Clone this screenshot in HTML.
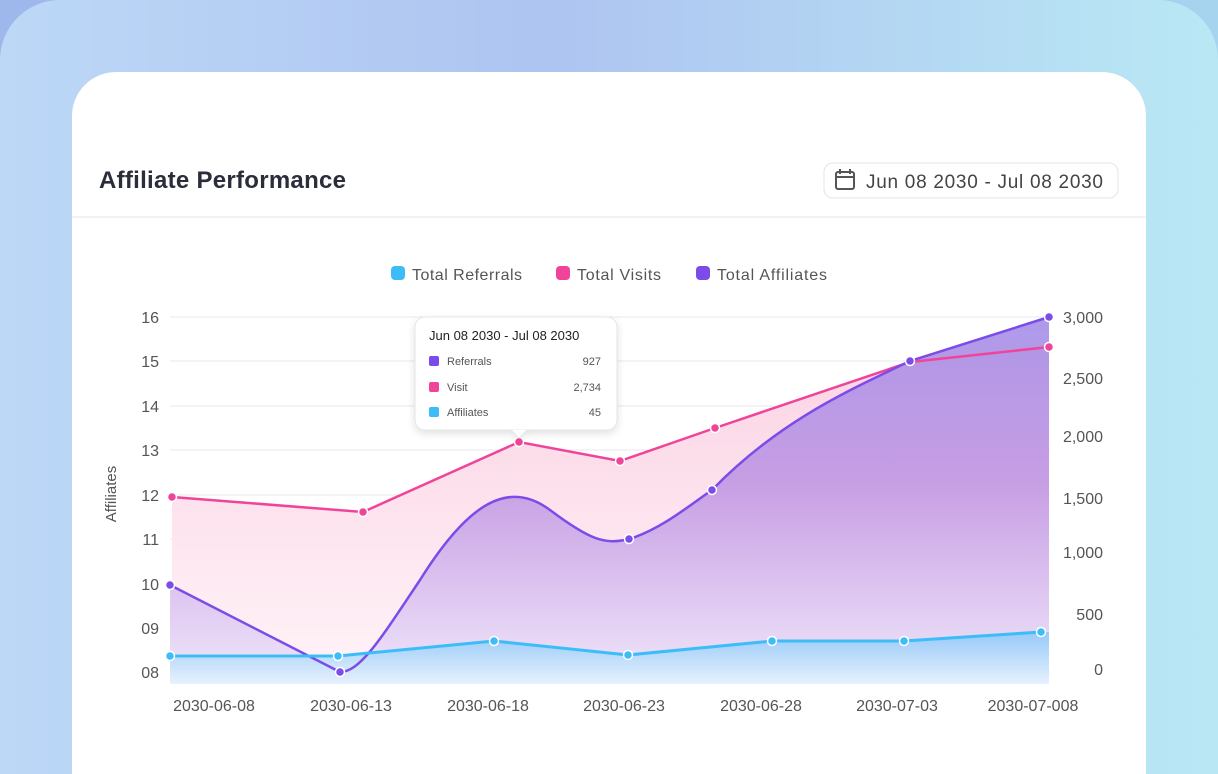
<!DOCTYPE html>
<html style="margin:0;width:1218px;height:774px;overflow:hidden"><head><meta charset="utf-8"><style>
body{margin:0;width:1218px;height:774px;overflow:hidden;position:relative;font-family:"Liberation Sans",sans-serif;
background:linear-gradient(90deg,#9fb8ec 0%,#9cb3ea 50%,#a6d4ee 100%);}
.outer{position:absolute;left:0;top:0;width:1218px;height:774px;border-radius:60px 60px 0 0;
background:linear-gradient(90deg,#bcd8f6 0%,#aec4f1 45%,#b9e8f4 100%);}
.card{position:absolute;left:72px;top:72px;width:1074px;height:702px;background:#fff;border-radius:44px 44px 0 0;}
</style></head><body>
<div class="outer"></div>
<div class="card"></div>
<svg width="1218" height="774" style="position:absolute;left:0;top:0" font-family="Liberation Sans, sans-serif">
<defs>
<linearGradient id="gp" x1="0" y1="0" x2="0" y2="1"><stop offset="0" stop-color="#fbd3e4"/><stop offset="1" stop-color="#fff4f8"/></linearGradient>
<linearGradient id="gv" x1="0" y1="0" x2="0" y2="1"><stop offset="0" stop-color="#a690e8"/><stop offset="0.45" stop-color="#c298e3"/><stop offset="1" stop-color="#efe6fb"/></linearGradient>
<linearGradient id="gb" x1="0" y1="0" x2="0" y2="1"><stop offset="0" stop-color="#8dc8f8"/><stop offset="1" stop-color="#e6f2fe"/></linearGradient>
<filter id="sh" x="-20%" y="-20%" width="140%" height="150%"><feDropShadow dx="0" dy="3" stdDeviation="4" flood-color="#000" flood-opacity="0.12"/></filter>
</defs>
<text x="99" y="188" font-size="24" font-weight="bold" fill="#2b2d3b" textLength="247">Affiliate Performance</text>
<rect x="824" y="163" width="294" height="35" rx="9" fill="#fff" stroke="#e2e4e8"/>
<rect x="836" y="172" width="18" height="17" rx="2" fill="none" stroke="#555" stroke-width="2"/>
<line x1="836" y1="177" x2="854" y2="177" stroke="#555" stroke-width="2"/>
<line x1="840" y1="169" x2="840" y2="174" stroke="#555" stroke-width="2"/><line x1="850" y1="169" x2="850" y2="174" stroke="#555" stroke-width="2"/>
<text x="866" y="188" font-size="19" fill="#444" textLength="237">Jun 08 2030 - Jul 08 2030</text>
<line x1="72" y1="217" x2="1146" y2="217" stroke="#e6e6ea"/>
<g font-size="16" fill="#555">
<rect x="391" y="266" width="14" height="14" rx="4" fill="#3dbdf8"/><text x="412" y="280" textLength="110">Total Referrals</text>
<rect x="556" y="266" width="14" height="14" rx="4" fill="#f0449a"/><text x="577" y="280" textLength="84">Total Visits</text>
<rect x="696" y="266" width="14" height="14" rx="4" fill="#7b4ce8"/><text x="717" y="280" textLength="110">Total Affiliates</text>
</g>
<g stroke="#e8e8ec" stroke-width="1">
<line x1="170" y1="317" x2="1050" y2="317"/><line x1="170" y1="361" x2="1050" y2="361"/><line x1="170" y1="406" x2="1050" y2="406"/><line x1="170" y1="450" x2="1050" y2="450"/><line x1="170" y1="495" x2="1050" y2="495"/><line x1="170" y1="539" x2="1050" y2="539"/><line x1="170" y1="584" x2="1050" y2="584"/><line x1="170" y1="628" x2="1050" y2="628"/><line x1="170" y1="672" x2="1050" y2="672"/>
</g>
<g font-size="16" fill="#555" text-anchor="end">
<text x="159" y="323">16</text><text x="159" y="367">15</text><text x="159" y="412">14</text><text x="159" y="456">13</text><text x="159" y="501">12</text><text x="159" y="545">11</text><text x="159" y="590">10</text><text x="159" y="634">09</text><text x="159" y="678">08</text>
</g>
<g font-size="16" fill="#555" text-anchor="end">
<text x="1103" y="323">3,000</text><text x="1103" y="384">2,500</text><text x="1103" y="442">2,000</text><text x="1103" y="504">1,500</text><text x="1103" y="558">1,000</text><text x="1103" y="620">500</text><text x="1103" y="675">0</text>
</g>
<text transform="translate(116,494) rotate(-90)" font-size="15" fill="#555" text-anchor="middle">Affiliates</text>
<path d="M172,497 L363,512 L519,442 L620,461 L715,428 L910,362 L1049,347 L1049,684 L172,684Z" fill="url(#gp)"/>
<path d="M170,585 L340,672 C360,672 380,640 420,580 C470,500 510,480 550,510 C590,540 605,545 629,539 C660,530 690,505 712,490 C780,420 850,390 910,361 L1049,317 L1049,684 L170,684Z" fill="url(#gv)" opacity="0.92"/>
<path d="M170,656 L338,656 L494,641 L628,655 L772,641 L904,641 L1041,632 L1049,632 L1049,684 L170,684Z" fill="url(#gb)" opacity="0.9"/>
<path d="M172,497 L363,512 L519,442 L620,461 L715,428 L910,362 L1049,347" fill="none" stroke="#f0449a" stroke-width="2.5"/>
<path d="M170,585 L340,672 C360,672 380,640 420,580 C470,500 510,480 550,510 C590,540 605,545 629,539 C660,530 690,505 712,490 C780,420 850,390 910,361 L1049,317" fill="none" stroke="#7b4ce8" stroke-width="2.5"/>
<path d="M170,656 L338,656 L494,641 L628,655 L772,641 L904,641 L1041,632" fill="none" stroke="#3dbdf8" stroke-width="3"/>
<g stroke="#fff" stroke-width="1.5">
<g fill="#f0449a"><circle cx="172" cy="497" r="4.5"/><circle cx="363" cy="512" r="4.5"/><circle cx="519" cy="442" r="4.5"/><circle cx="620" cy="461" r="4.5"/><circle cx="715" cy="428" r="4.5"/><circle cx="1049" cy="347" r="4.5"/></g>
<g fill="#7b4ce8"><circle cx="170" cy="585" r="4.5"/><circle cx="340" cy="672" r="4.5"/><circle cx="629" cy="539" r="4.5"/><circle cx="712" cy="490" r="4.5"/><circle cx="910" cy="361" r="4.5"/><circle cx="1049" cy="317" r="4.5"/></g>
<g fill="#3dbdf8"><circle cx="170" cy="656" r="4.5"/><circle cx="338" cy="656" r="4.5"/><circle cx="494" cy="641" r="4.5"/><circle cx="628" cy="655" r="4.5"/><circle cx="772" cy="641" r="4.5"/><circle cx="904" cy="641" r="4.5"/><circle cx="1041" cy="632" r="4.5"/></g>
</g>
<g font-size="16" fill="#555" text-anchor="middle">
<text x="214" y="711">2030-06-08</text><text x="351" y="711">2030-06-13</text><text x="488" y="711">2030-06-18</text><text x="624" y="711">2030-06-23</text><text x="761" y="711">2030-06-28</text><text x="897" y="711">2030-07-03</text><text x="1033" y="711">2030-07-008</text>
</g>
<g filter="url(#sh)">
<rect x="415" y="317" width="202" height="113" rx="10" fill="#fff" stroke="#e6e6ea"/>
<path d="M512,430 L519,437 L526,430Z" fill="#fff"/>
</g>
<text x="429" y="340" font-size="13" fill="#222">Jun 08 2030 - Jul 08 2030</text>
<g font-size="11" fill="#555">
<rect x="429" y="356" width="10" height="10" rx="2" fill="#7b4ce8"/><text x="447" y="365">Referrals</text><text x="601" y="365" text-anchor="end">927</text>
<rect x="429" y="382" width="10" height="10" rx="2" fill="#f0449a"/><text x="447" y="391">Visit</text><text x="601" y="391" text-anchor="end">2,734</text>
<rect x="429" y="407" width="10" height="10" rx="2" fill="#3dbdf8"/><text x="447" y="416">Affiliates</text><text x="601" y="416" text-anchor="end">45</text>
</g>
</svg>
</body></html>
